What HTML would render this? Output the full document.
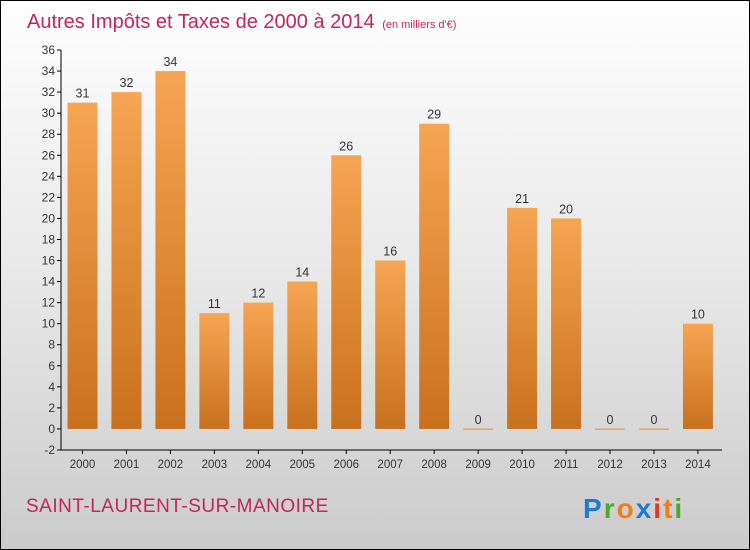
<!DOCTYPE html>
<html><head><meta charset="utf-8"><style>
body{margin:0;}
#wrap{position:relative;width:748px;height:548px;border:1px solid #000;background:linear-gradient(#fefefe,#e8e8e8 50%,#cbcbcb);font-family:"Liberation Sans",sans-serif;overflow:hidden}
</style></head><body>
<div id="wrap">
<svg id="chart" width="748" height="548">
<defs><linearGradient id="bg" x1="0" y1="0" x2="0" y2="1"><stop offset="0" stop-color="#f6a552"/><stop offset="1" stop-color="#c9701e"/></linearGradient></defs>
<text x="26" y="27" font-size="20" fill="#c2255c">Autres Impôts et Taxes de 2000 à 2014 <tspan font-size="11" dx="2">(en milliers d'€)</tspan></text>
<text x="25" y="511" font-size="19" fill="#c2255c" letter-spacing="0.5">SAINT-LAURENT-SUR-MANOIRE</text>
<text x="582" y="517" font-size="28" font-weight="bold" letter-spacing="2"><tspan fill="#1f7ad1">P</tspan><tspan fill="#4aaa2a">r</tspan><tspan fill="#f07d10">o</tspan><tspan fill="#1f7ad1">x</tspan><tspan fill="#e03a20">i</tspan><tspan fill="#f07d10">t</tspan><tspan fill="#4aaa2a">i</tspan></text>
<g id="g"></g>
</svg>
</div>
<script>
const categories=["2000","2001","2002","2003","2004","2005","2006","2007","2008","2009","2010","2011","2012","2013","2014"];
const values=[31,32,34,11,12,14,26,16,29,0,21,20,0,0,10];
const yTicks=[-2,0,2,4,6,8,10,12,14,16,18,20,22,24,26,28,30,32,34,36];
const ns="http://www.w3.org/2000/svg";
const g=document.getElementById('g');
const y=v=>449-(v+2)*(400/38);
const x=i=>81.5+i*43.96;
function mk(t,a){const e=document.createElementNS(ns,t);for(const k in a)e.setAttribute(k,a[k]);g.appendChild(e);return e;}
let ax=mk('line',{x1:60,y1:49,x2:60,y2:449,stroke:'#000'});


let bx=mk('line',{x1:60,y1:449,x2:721,y2:449,stroke:'#000'});


yTicks.forEach(t=>{
 mk('line',{x1:56,x2:60,y1:y(t),y2:y(t),stroke:'#000'});
 const tx=mk('text',{x:54,y:y(t)+4,'font-size':12,fill:'#333','text-anchor':'end'});
 tx.textContent=t;
 
 
});
categories.forEach((c,i)=>{
 const v=values[i];
 mk('line',{x1:x(i),x2:x(i),y1:449,y2:453,stroke:'#000'});
 const lt=mk('text',{x:x(i),y:467,'font-size':11.5,fill:'#333','text-anchor':'middle'});
 lt.textContent=c;
 
 
 let b;
 if(v>0){b=mk('rect',{x:x(i)-15,y:y(v),width:30,height:y(0)-y(v),fill:'url(#bg)'});}
 else{b=mk('rect',{x:x(i)-15,y:y(0)-0.5,width:30,height:1.5,fill:'#e8a060'});}
 
 
 const vt=mk('text',{x:x(i),y:y(v)-5,'font-size':12.5,fill:'#333','text-anchor':'middle'});
 vt.textContent=v;
 
 
});
</script>
</body></html>
